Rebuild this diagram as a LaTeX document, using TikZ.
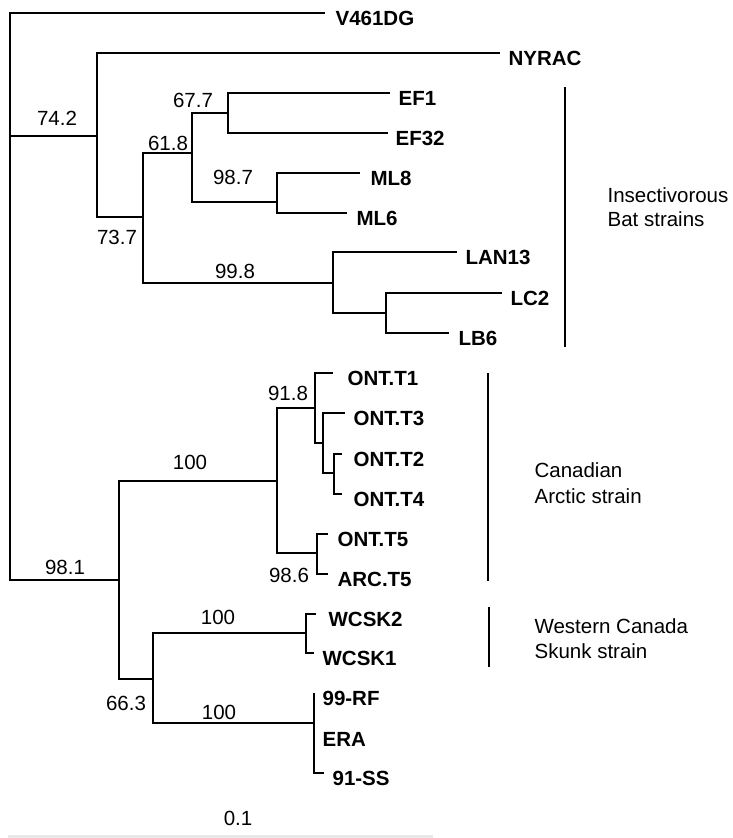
\documentclass[tikz,border=0pt]{standalone}
\usepackage{fontspec}
\setmainfont{Liberation Sans}
\begin{document}
\begin{tikzpicture}[x=1pt, y=-1pt, line width=1.2pt,
    taxon/.style={font=\fontsize{20.5}{24}\selectfont\bfseries, anchor=base west, inner sep=0pt, xshift=8pt, yshift=-12.5pt},
    boot/.style={font=\fontsize{20.5}{24}\selectfont, inner sep=0pt},
    clade/.style={line width=1.6pt},
    grp/.style={font=\fontsize{20.5}{24}\selectfont, anchor=base west, inner sep=0pt}]
    \useasboundingbox (0,0) rectangle (733,838);
    \coordinate (root) at (10,300);
    \coordinate (n742) at (97,136);
    \coordinate (n737) at (143,217);
    \coordinate (n618) at (192,153);
    \coordinate (n677) at (228,113);
    \coordinate (n987) at (277,202);
    \coordinate (n998) at (333,283);
    \coordinate (nLL) at (386,313);
    \coordinate (n981) at (119,580);
    \coordinate (nArc) at (277,481);
    \coordinate (n918) at (315,408);
    \coordinate (nT3) at (323,443);
    \coordinate (nT2) at (334,473);
    \coordinate (n986) at (317,553);
    \coordinate (n663) at (153,679);
    \coordinate (nWC) at (306,633);
    \coordinate (nRV) at (314,723);
    \coordinate (tV461) at (325,13);
    \coordinate (tNYRAC) at (500,53);
    \coordinate (tEF1) at (390,93);
    \coordinate (tEF32) at (388,133);
    \coordinate (tML8) at (360,173);
    \coordinate (tML6) at (347,213);
    \coordinate (tLAN) at (457,252);
    \coordinate (tLC2) at (502,293);
    \coordinate (tLB6) at (449,333);
    \coordinate (tT1) at (333,373);
    \coordinate (tT3) at (345,413);
    \coordinate (tT2) at (342,454);
    \coordinate (tT4) at (342,494);
    \coordinate (tT5) at (328,534);
    \coordinate (tARC) at (328,574);
    \coordinate (tWC2) at (316,614);
    \coordinate (tWC1) at (314,653);
    \coordinate (tRF) at (314,693);
    \coordinate (tERA) at (314,734);
    \coordinate (tSS) at (324,773);
    \draw (root) |- (tV461) (root) |- (n742) (root) |- (n981);
    \draw (n742) |- (tNYRAC) (n742) |- (n737);
    \draw (n737) |- (n618) (n737) |- (n998);
    \draw (n618) |- (n677) (n618) |- (n987);
    \draw (n677) |- (tEF1) (n677) |- (tEF32);
    \draw (n987) |- (tML8) (n987) |- (tML6);
    \draw (n998) |- (tLAN) (n998) |- (nLL);
    \draw (nLL) |- (tLC2) (nLL) |- (tLB6);
    \draw (n981) |- (nArc) (n981) |- (n663);
    \draw (nArc) |- (n918) (nArc) |- (n986);
    \draw (n918) |- (tT1) (n918) |- (nT3);
    \draw (nT3) |- (tT3) (nT3) |- (nT2);
    \draw (nT2) |- (tT2) (nT2) |- (tT4);
    \draw (n986) |- (tT5) (n986) |- (tARC);
    \draw (n663) |- (nWC) (n663) |- (nRV);
    \draw (nWC) |- (tWC2) (nWC) |- (tWC1);
    \draw (nRV) |- (tRF) (nRV) |- (tSS);
    \node[taxon, xshift=2pt] (V461) at (tV461) {V461DG};
    \node[taxon] (NYRAC) at (tNYRAC) {NYRAC};
    \node[taxon] (EF1) at (tEF1) {EF1};
    \node[taxon, xshift=-1pt] (EF32) at (tEF32) {EF32};
    \node[taxon, xshift=2pt] (ML8) at (tML8) {ML8};
    \node[taxon, xshift=1pt] (ML6) at (tML6) {ML6};
    \node[taxon] (LAN13) at (tLAN) {LAN13};
    \node[taxon] (LC2) at (tLC2) {LC2};
    \node[taxon, xshift=1pt] (LB6) at (tLB6) {LB6};
    \node[taxon, xshift=6pt] (T1) at (tT1) {ONT.T1};
    \node[taxon] (T3) at (tT3) {ONT.T3};
    \node[taxon, xshift=3pt] (T2) at (tT2) {ONT.T2};
    \node[taxon, xshift=3pt] (T4) at (tT4) {ONT.T4};
    \node[taxon, xshift=1pt] (T5) at (tT5) {ONT.T5};
    \node[taxon, xshift=1pt] (ARC) at (tARC) {ARC.T5};
    \node[taxon, xshift=4pt] (WC2) at (tWC2) {WCSK2};
    \node[taxon] (WC1) at (tWC1) {WCSK1};
    \node[taxon] (RF) at (tRF) {99-RF};
    \node[taxon] (ERA) at (tERA) {ERA};
    \node[taxon] (SS) at (tSS) {91-SS};
    \node[boot] (b742) at (57,118) {74.2};
    \node[boot] (b677) at (193,100) {67.7};
    \node[boot] (b618) at (168,143) {61.8};
    \node[boot] (b987) at (233,177) {98.7};
    \node[boot] (b737) at (117,237) {73.7};
    \node[boot] (b998) at (235,271) {99.8};
    \node[boot] (b918) at (288,393) {91.8};
    \node[boot] (b100a) at (190,462) {100};
    \node[boot] (b986) at (289,575) {98.6};
    \node[boot] (b981) at (65,567) {98.1};
    \node[boot] (b100b) at (218,617) {100};
    \node[boot] (b663) at (126,703) {66.3};
    \node[boot] (b100c) at (219,712) {100};
    \coordinate (batTop) at (565,87);
    \coordinate (batBot) at (565,347);
    \coordinate (arcTop) at (488,373);
    \coordinate (arcBot) at (488,581);
    \coordinate (wcTop) at (489,607);
    \coordinate (wcBot) at (489,667);
    \draw[clade] (batTop) -- (batBot);
    \draw[clade] (arcTop) -- (arcBot);
    \draw[clade] (wcTop) -- (wcBot);
    \node[grp] (bat1) at (607,202) {Insectivorous};
    \node[grp] (bat2) at (607,226) {Bat strains};
    \node[grp] (arc1) at (534,477) {Canadian};
    \node[grp] (arc2) at (534,503) {Arctic strain};
    \node[grp] (wc1) at (534,633) {Western Canada};
    \node[grp] (wc2) at (534,658) {Skunk strain};
    \node[boot] (scl) at (238,818) {0.1};
    \coordinate (barL) at (8,836);
    \coordinate (barR) at (433,836);
    \draw[gray!18, line width=3pt] (barL) -- (barR);
\end{tikzpicture}
\end{document}
